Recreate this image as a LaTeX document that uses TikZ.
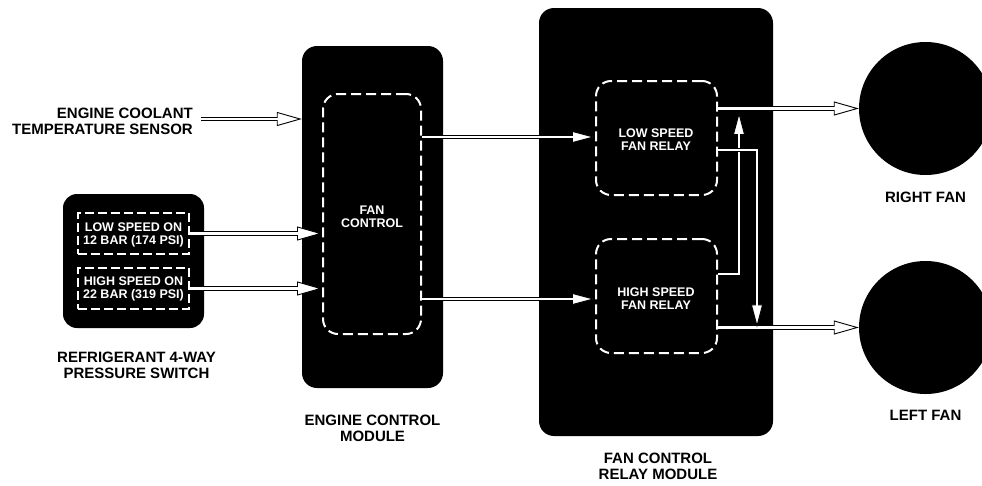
\documentclass[tikz,border=0pt]{standalone}
\usepackage{fontspec}
\setmainfont{Liberation Sans}
\usetikzlibrary{arrows.meta}
\begin{document}
\begin{tikzpicture}[x=1pt,y=-1pt,
  blk/.style={fill=black, rounded corners=15pt, inner sep=0pt},
  dsh/.style={draw=white, line width=2pt, dash pattern=on 10pt off 5pt, rounded corners=15pt, inner sep=0pt},
  sdsh/.style={draw=white, line width=2pt, dash pattern=on 9pt off 4pt, sharp corners, inner sep=0pt},
  fan/.style={circle, fill=black, minimum size=133pt, inner sep=0pt},
  lbl/.style={font=\bfseries\fontsize{15}{16}\selectfont, align=center, inner sep=0pt},
  wtxt/.style={text=white, font=\bfseries\fontsize{12.5}{13}\selectfont, align=center, inner sep=0pt},
  hol/.style={draw=black, line width=4.6pt, line join=miter,
    -{Triangle[length=25pt,width=14pt,fill=white,line width=0.9pt]},
    postaction={draw=white, line width=2.6pt, arrows=-, shorten >=23pt}},
  fil/.style={draw=black, line width=4.6pt, line join=miter,
    -{Triangle[length=23pt,width=12pt,fill=white,line width=0.9pt]},
    postaction={draw=white, line width=2.6pt, arrows=-, shorten >=21pt}},
]
\useasboundingbox (0,0) rectangle (982,485);
\clip (0,0) rectangle (982,485);

% blocks
\node[blk, minimum width=141pt, minimum height=342pt] (ecm) at (372.5,217) {};
\node[dsh, minimum width=98pt, minimum height=240pt] (fc) at (372,214) {};
\node[wtxt] (fctxt) at (372,217) {FAN\\CONTROL};

\node[blk, minimum width=141pt, minimum height=134pt, rounded corners=14pt] (sw) at (133.5,261) {};
\node[sdsh, minimum width=111pt, minimum height=41pt] (lsw) at (133.5,233.5) {};
\node[sdsh, minimum width=111pt, minimum height=41pt] (hsw) at (133.5,288.5) {};
\node[wtxt] (lswtxt) at (133.5,235) {LOW SPEED ON\\12 BAR (174 PSI)};
\node[wtxt] (hswtxt) at (133.5,289) {HIGH SPEED ON\\22 BAR (319 PSI)};

\node[blk, minimum width=234pt, minimum height=428pt] (fcrm) at (656,222) {};
\node[dsh, minimum width=121pt, minimum height=114pt] (lsr) at (656.5,138) {};
\node[dsh, minimum width=121pt, minimum height=114pt] (hsr) at (656.5,296) {};
\node[wtxt] (lsrtxt) at (656,140) {LOW SPEED\\FAN RELAY};
\node[wtxt] (hsrtxt) at (656,299) {HIGH SPEED\\FAN RELAY};

\node[fan] (rfan) at (925.5,108.5) {};
\node[fan] (lfan) at (925.5,327.5) {};

% labels
\node[lbl, align=right, anchor=east] (cool) at (193,121) {ENGINE COOLANT\\TEMPERATURE SENSOR};
\node[lbl] (refr) at (136.5,365) {REFRIGERANT 4-WAY\\PRESSURE SWITCH};
\node[lbl] (ecml) at (372.5,428) {ENGINE CONTROL\\MODULE};
\node[lbl] (fcrml) at (658,466) {FAN CONTROL\\RELAY MODULE};
\node[lbl] (rfl) at (925.5,197) {RIGHT FAN};
\node[lbl] (lfl) at (925.5,415) {LEFT FAN};

% level coordinates
\coordinate (cl) at (0,119);
\coordinate (l1) at (0,137);
\coordinate (l2) at (0,299);
\coordinate (dn) at (757,150);
\coordinate (up) at (739,274);
\coordinate (uptip) at (739,112);

% connectors
\draw[hol] ([xshift=8pt]cool.east |- cl) -- (ecm.west |- cl);
\draw[hol] (lsw.east) -- (lsw.east -| fc.west);
\draw[hol] (hsw.east) -- (hsw.east -| fc.west);
\draw[fil] (fc.east |- l1) -- (lsr.west |- l1);
\draw[fil] (fc.east |- l2) -- (hsr.west |- l2);
\draw[fil] (hsr.east |- up) -- (up) -- (uptip);
\draw[hol] (lsr.east |- rfan.west) -- (rfan.west);
\draw[hol] (hsr.east |- lfan.west) -- (lfan.west);
\draw[fil] (lsr.east |- dn) -- (dn) -- (dn |- lfan.west);
\end{tikzpicture}
\end{document}
